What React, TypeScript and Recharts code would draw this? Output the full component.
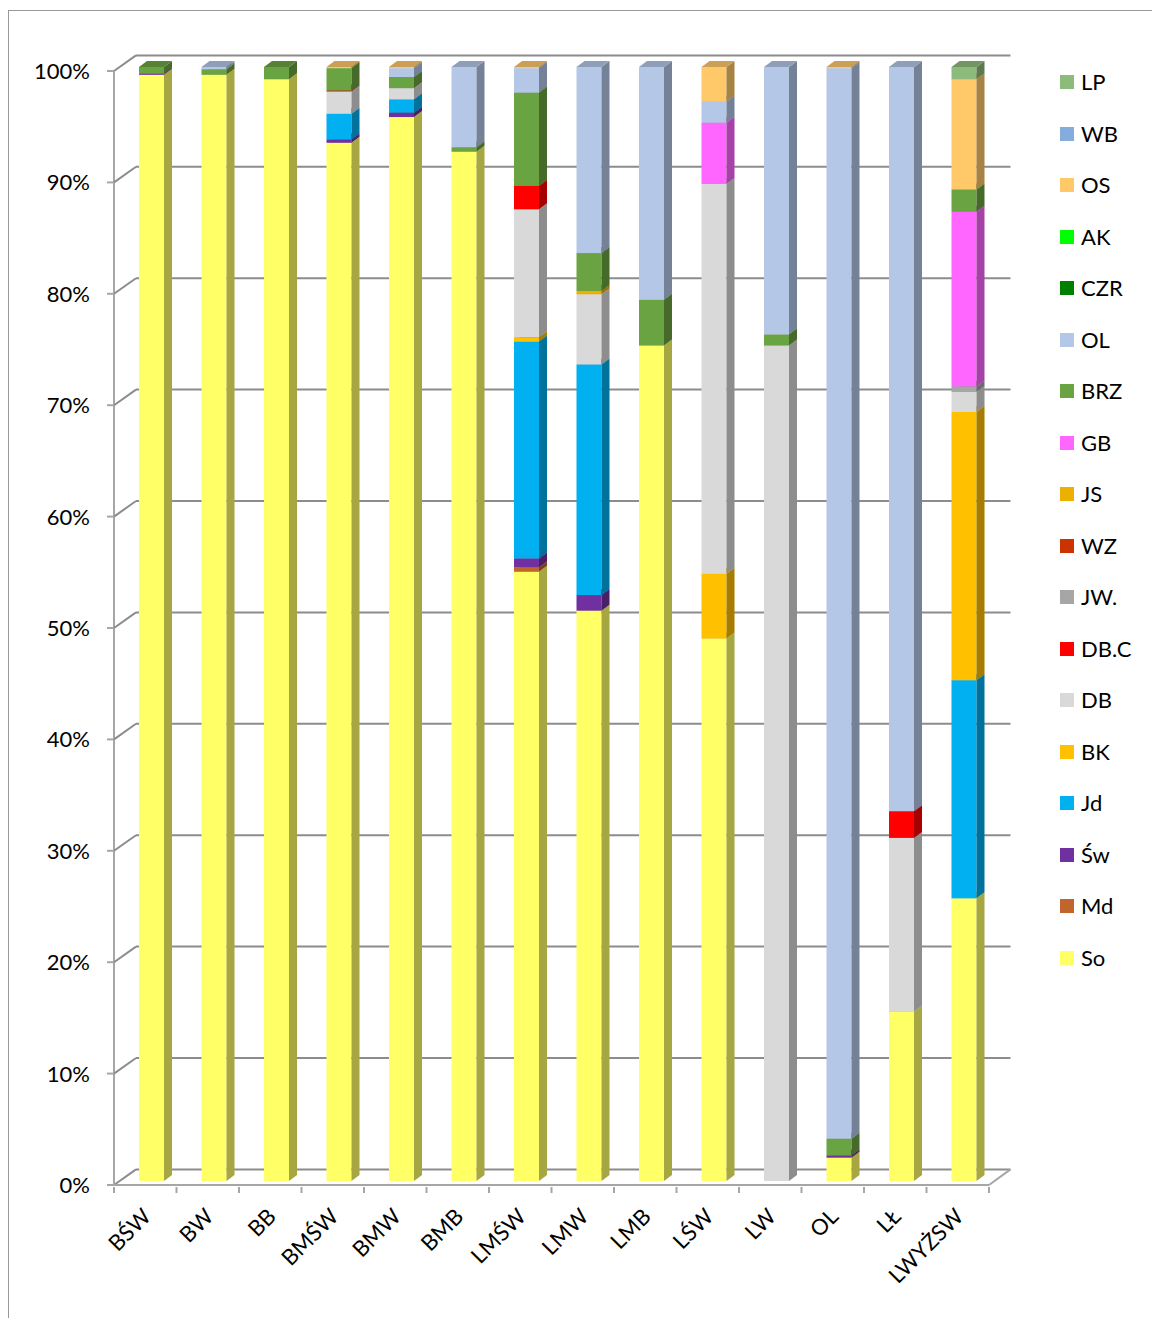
import { Bar, BarChart, CartesianGrid, XAxis, YAxis } from "recharts";

// 100% stacked columns drawn as Excel-style 3D boxes (front, side, top face).

document.body.style.margin = "0";
document.body.style.overflow = "hidden";

const CATEGORIES = ["BŚW", "BW", "BB", "BMŚW", "BMW", "BMB", "LMŚW", "LMW", "LMB", "LŚW", "LW", "OL", "LŁ", "LWYŻSW"];

// shares in % (bottom of the stack first)
const SO = [99.3, 99.3, 98.9, 93.2, 95.6, 92.4, 54.8, 51.2, 75.0, 48.7, 0, 2.1, 15.2, 25.4];
const MD = [0, 0, 0, 0, 0, 0, 0.4, 0, 0, 0, 0, 0, 0, 0];
const SW = [0.1, 0, 0, 0.3, 0.4, 0, 0.8, 1.4, 0, 0, 0, 0.2, 0, 0];
const JD = [0, 0, 0, 2.3, 1.2, 0, 19.5, 20.7, 0, 0, 0, 0, 0, 19.6];
const BK = [0, 0, 0, 0, 0, 0, 0.4, 0, 0, 5.8, 0, 0, 0, 24.1];
const DB = [0, 0, 0, 2.0, 1.0, 0, 11.5, 6.3, 0, 35.0, 75.0, 0, 15.6, 1.8];
const DBC = [0, 0, 0, 0, 0, 0, 2.1, 0, 0, 0, 0, 0, 2.4, 0];
const JW = [0, 0, 0, 0, 0, 0, 0, 0, 0, 0, 0, 0, 0, 0.5];
const WZ = [0, 0, 0, 0.1, 0, 0, 0, 0, 0, 0, 0, 0, 0, 0];
const JS = [0, 0, 0, 0, 0, 0, 0, 0.3, 0, 0, 0, 0, 0, 0];
const GB = [0, 0, 0, 0, 0, 0, 0, 0, 0, 5.5, 0, 0, 0, 15.7];
const BRZ = [0.6, 0.5, 1.1, 2.0, 1.0, 0.4, 8.4, 3.4, 4.1, 0, 1.0, 1.5, 0, 2.0];
const OL = [0, 0.2, 0, 0, 0.8, 7.2, 2.2, 16.7, 20.9, 1.9, 24.0, 96.2, 66.8, 0];
const CZR = [0, 0, 0, 0, 0, 0, 0, 0, 0, 0, 0, 0, 0, 0];
const AK = [0, 0, 0, 0, 0, 0, 0, 0, 0, 0, 0, 0, 0, 0];
const OS = [0, 0, 0, 0.1, 0.1, 0, 0.1, 0, 0, 3.1, 0, 0.1, 0, 9.9];
const WB = [0, 0, 0, 0, 0, 0, 0, 0, 0, 0, 0, 0, 0, 0];
const LP = [0, 0, 0, 0, 0, 0, 0, 0, 0, 0, 0, 0, 0, 1.1];

const Y_TICKS = [0, 0.1, 0.2, 0.3, 0.4, 0.5, 0.6, 0.7, 0.8, 0.9, 1];

const SERIES = [
  { name: "So", color: "#FFFF66", values: SO },
  { name: "Md", color: "#C0652C", values: MD },
  { name: "Św", color: "#7030A0", values: SW },
  { name: "Jd", color: "#00B0F0", values: JD },
  { name: "BK", color: "#FFC000", values: BK },
  { name: "DB", color: "#D9D9D9", values: DB },
  { name: "DB.C", color: "#FF0000", values: DBC },
  { name: "JW.", color: "#A6A6A6", values: JW },
  { name: "WZ", color: "#CC3300", values: WZ },
  { name: "JS", color: "#EEB000", values: JS },
  { name: "GB", color: "#FF66FF", values: GB },
  { name: "BRZ", color: "#6AA341", values: BRZ },
  { name: "OL", color: "#B4C7E7", values: OL },
  { name: "CZR", color: "#008000", values: CZR },
  { name: "AK", color: "#00FF00", values: AK },
  { name: "OS", color: "#FFC869", values: OS },
  { name: "WB", color: "#84ACDC", values: WB },
  { name: "LP", color: "#8DBB7B", values: LP },
];

const data = CATEGORIES.map((name, i) => {
  const row: Record<string, string | number> = { name };
  SERIES.forEach((s) => (row[s.name] = s.values[i]));
  return row;
});

const W = 1152;
const H = 1318;
const PLOT_LEFT = 114;
const PLOT_RIGHT = 989;
const PLOT_TOP = 67;
const PLOT_BOTTOM = 1181;
const FONT = "Lato, 'Open Sans', sans-serif";
const GRID = "#8c8c8c";
const AXIS = "#a6a6a6";
// depth of the boxes and of the back wall
const BOX_DX = 8;
const BOX_DY = 6;
const BOX_SHIFT = 6;
const WALL_DX = 22;
const WALL_DY = 11.6;
const FRONT_DY = 4;

function shade(hex: string, f: number) {
  const n = parseInt(hex.slice(1), 16);
  const r = Math.round(((n >> 16) & 255) * f);
  const g = Math.round(((n >> 8) & 255) * f);
  const b = Math.round((n & 255) * f);
  return `rgb(${r},${g},${b})`;
}

function Box3D(props: any) {
  const { x, y, width, height, color } = props;
  if (!height || height < 0.05) return <g />;
  const X = x + BOX_SHIFT;
  const R = X + width;
  const side = `${R},${y} ${R + BOX_DX},${y - BOX_DY} ${R + BOX_DX},${y + height - BOX_DY} ${R},${y + height}`;
  const top = `${X},${y} ${R},${y} ${R + BOX_DX},${y - BOX_DY} ${X + BOX_DX},${y - BOX_DY}`;
  return (
    <g>
      <rect x={X} y={y} width={width} height={height} fill={color} />
      <polygon points={side} fill={shade(color, 0.65)} />
      <polygon points={top} fill={shade(color, 0.8)} />
    </g>
  );
}

function GridLine(p: any) {
  const { x1, x2, y1 } = p;
  const back = y1 - WALL_DY;
  const front = y1 + FRONT_DY;
  const isFloor = Math.abs(y1 - PLOT_BOTTOM) < 1;
  return (
    <g key={p.key}>
      <line x1={x1 + WALL_DX} y1={back} x2={x2 + WALL_DX - 0.5} y2={back} stroke={GRID} strokeWidth={2} />
      <line x1={x1} y1={front} x2={x1 + WALL_DX} y2={back} stroke={GRID} strokeWidth={2} />
      {isFloor && (
        <g>
          <line x1={x1} y1={front} x2={x2} y2={front} stroke={AXIS} strokeWidth={2} />
          <line x1={x2} y1={front} x2={x2 + WALL_DX - 0.5} y2={back} stroke={AXIS} strokeWidth={2} />
          <line x1={x1} y1={PLOT_TOP + FRONT_DY} x2={x1} y2={front} stroke={AXIS} strokeWidth={2} />
        </g>
      )}
    </g>
  );
}

function YTick(p: any) {
  const { y, payload } = p;
  const fy = y + FRONT_DY;
  return (
    <g>
      <line x1={PLOT_LEFT - 7} y1={fy} x2={PLOT_LEFT} y2={fy} stroke={AXIS} strokeWidth={2} />
      <text x={90} y={fy} dy={8} textAnchor="end" fontSize={22} fontFamily={FONT} fill="#000">
        {`${Math.round(payload.value * 100)}%`}
      </text>
    </g>
  );
}

function XTick(p: any) {
  const { x, payload, index } = p;
  const band = (PLOT_RIGHT - PLOT_LEFT) / CATEGORIES.length;
  const fy = PLOT_BOTTOM + FRONT_DY;
  const left = x - band / 2;
  return (
    <g>
      <line x1={left} y1={fy + 2} x2={left} y2={fy + 8} stroke={AXIS} strokeWidth={2} />
      {index === CATEGORIES.length - 1 && (
        <line x1={x + band / 2} y1={fy + 2} x2={x + band / 2} y2={fy + 8} stroke={AXIS} strokeWidth={2} />
      )}
      <text
        transform={`translate(${x + 7},${fy + 33}) rotate(-45)`}
        textAnchor="end"
        fontSize={22}
        fontFamily={FONT}
        fill="#000"
      >
        {payload.value}
      </text>
    </g>
  );
}

export default function App() {
  const legend = [...SERIES].reverse();
  return (
    <div style={{ position: "relative", width: W, height: H, overflow: "hidden", background: "#fff", fontFamily: FONT }}>
      <div
        style={{
          position: "absolute",
          left: 8,
          top: 10,
          width: W,
          height: H,
          borderLeft: "1px solid #999",
          borderTop: "1px solid #999",
        }}
      />
      <div style={{ position: "absolute", left: 0, top: 0 }}>
        <BarChart
          width={W}
          height={H}
          data={data}
          stackOffset="expand"
          barSize={25}
          margin={{ top: PLOT_TOP, right: W - PLOT_RIGHT, bottom: 0, left: 0 }}
        >
          <CartesianGrid vertical={false} horizontal={GridLine as any} />
          <XAxis dataKey="name" height={H - PLOT_BOTTOM} axisLine={false} tickLine={false} interval={0} tick={XTick} />
          <YAxis
            width={PLOT_LEFT}
            domain={[0, 1]}
            ticks={Y_TICKS}
            axisLine={false}
            tickLine={false}
            tick={YTick}
          />
          {SERIES.map((s) => (
            <Bar
              key={s.name}
              dataKey={s.name}
              stackId="a"
              fill={s.color}
              isAnimationActive={false}
              shape={(p: any) => <Box3D {...p} color={s.color} />}
            />
          ))}
        </BarChart>
      </div>
      {legend.map((s, i) => (
        <div
          key={s.name}
          style={{ position: "absolute", left: 1060, top: 82 + i * 51.5 - 16, height: 32, display: "flex", alignItems: "center" }}
        >
          <div style={{ width: 14, height: 14, background: s.color }} />
          <span style={{ marginLeft: 7, fontSize: 22, color: "#000", lineHeight: "32px" }}>{s.name}</span>
        </div>
      ))}
    </div>
  );
}
